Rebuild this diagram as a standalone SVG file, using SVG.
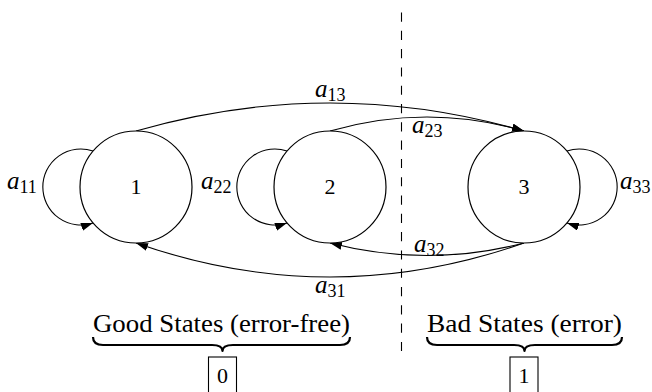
<svg xmlns="http://www.w3.org/2000/svg" width="652" height="392" viewBox="0 0 652 392">
<style>
.node{fill:#fff;stroke:#000;stroke-width:1.2}
.edge{fill:none;stroke:#000;stroke-width:1.1}
.num{font-family:"Liberation Serif","Times New Roman",serif;font-size:22px;text-anchor:middle;fill:#000}
.lbl{font-family:"Liberation Serif","Times New Roman",serif;font-size:25px;font-style:italic;fill:#000}
.sub{font-size:18px;font-style:normal}
.txt{font-family:"Liberation Serif","Times New Roman",serif;font-size:26px;fill:#000}
.brace{fill:none;stroke:#000;stroke-width:2.2;stroke-linejoin:round}
.box{fill:#fff;stroke:#000;stroke-width:1.1}
</style>
<defs>
<marker id="arr" markerUnits="userSpaceOnUse" markerWidth="14" markerHeight="10" refX="12" refY="4" orient="auto" viewBox="0 0 14 10">
<path d="M0,0 L12,4 L0,8 z" fill="#000"/>
</marker>
</defs>
<rect width="652" height="392" fill="#fff"/>
<line x1="401.5" y1="12.5" x2="401.5" y2="355" stroke="#000" stroke-width="1.1" stroke-dasharray="9.15 9.15"/>
<g id="connectors">
<path class="edge" d="M93,151 A38,38 0 1 0 93,223" marker-end="url(#arr)"/>
<path class="edge" d="M287,151 A38,38 0 1 0 287,223" marker-end="url(#arr)"/>
<path class="edge" d="M567,151 A38,38 0 1 1 567,223" marker-end="url(#arr)"/>
<path class="edge" d="M136,131 Q330,75 524,131" marker-end="url(#arr)"/>
<path class="edge" d="M330,131 Q427,103 524,131" marker-end="url(#arr)"/>
<path class="edge" d="M524,243 Q427,268 330,243" marker-end="url(#arr)"/>
<path class="edge" d="M524,243 Q330,311 136,243" marker-end="url(#arr)"/>
<text class="lbl" x="7" y="189">a<tspan class="sub" dy="4">11</tspan></text>
<text class="lbl" x="201" y="189">a<tspan class="sub" dy="4">22</tspan></text>
<text class="lbl" x="620" y="189">a<tspan class="sub" dy="4">33</tspan></text>
<text class="lbl" x="315" y="97">a<tspan class="sub" dy="4">13</tspan></text>
<text class="lbl" x="412" y="133">a<tspan class="sub" dy="4">23</tspan></text>
<text class="lbl" x="414" y="252">a<tspan class="sub" dy="4">32</tspan></text>
<text class="lbl" x="315" y="293">a<tspan class="sub" dy="4">31</tspan></text>
</g>
<g id="node1">
<circle class="node" cx="136" cy="187" r="56"/>
<text class="num" x="136" y="194">1</text>
</g>
<g id="node2">
<circle class="node" cx="330" cy="187" r="56"/>
<text class="num" x="330" y="194">2</text>
</g>
<g id="node3">
<circle class="node" cx="524" cy="187" r="56"/>
<text class="num" x="524" y="194">3</text>
</g>
<g id="good">
<text class="txt" x="93" y="332" textLength="257" lengthAdjust="spacingAndGlyphs">Good States (error-free)</text>
<path class="brace" d="M93,337 C93,343 97,345 103,345 L212,345 C218,345 222.5,347 222.5,351 C222.5,347 227,345 233,345 L340,345 C346,345 350,343 350,337"/>
<rect class="box" x="208.5" y="357" width="28" height="40"/>
<text class="num" x="222.5" y="383">0</text>
</g>
<g id="bad">
<text class="txt" x="427" y="332" textLength="195" lengthAdjust="spacingAndGlyphs">Bad States (error)</text>
<path class="brace" d="M427,337 C427,343 431,345 437,345 L514,345 C520,345 524.5,347 524.5,351 C524.5,347 529,345 535,345 L612,345 C618,345 622,343 622,337"/>
<rect class="box" x="510" y="357" width="28" height="40"/>
<text class="num" x="524" y="383">1</text>
</g>
</svg>
